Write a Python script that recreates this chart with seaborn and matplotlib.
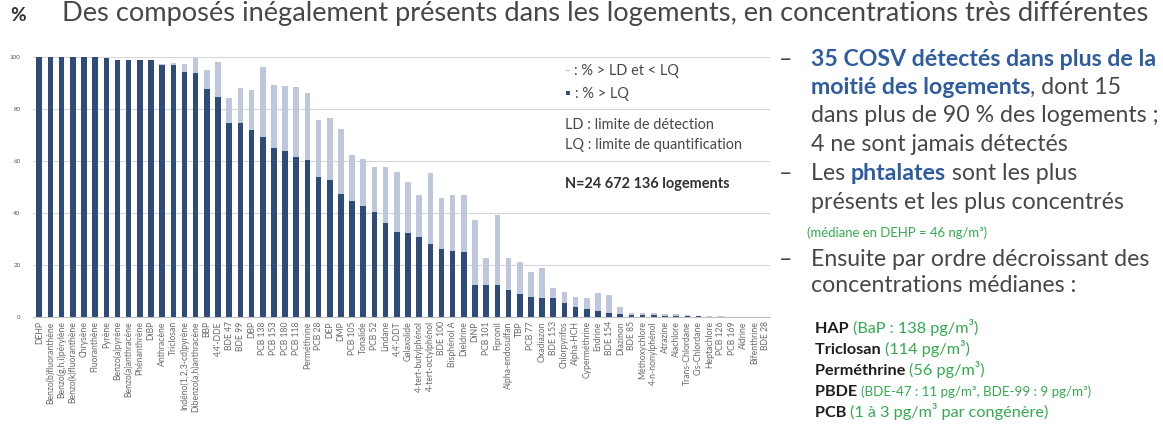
import numpy as np
import pandas as pd
import matplotlib
matplotlib.use("Agg")
import matplotlib.pyplot as plt
import seaborn as sns

# ---------------- data ----------------
composes = [
    "DEHP", "Benzo(b)fluoranthène", "Benzo(g,h,i)pérylène", "Benzo(k)fluoranthène",
    "Chrysène", "Fluoranthène", "Pyrène", "Benzo(a)pyrène", "Benzo(a)anthracène",
    "Phénanthrène", "DiBP", "Anthracène", "Triclosan", "Indéno(1,2,3-cd)pyrène",
    "Dibenzo(a,h)anthracène", "BBP", "4,4'-DDE", "BDE 47", "BDE 99", "DBP",
    "PCB 138", "PCB 153", "PCB 180", "PCB 118", "Perméthrine", "PCB 28", "DEP",
    "DMP", "PCB 105", "Tonalide", "PCB 52", "Lindane", "4,4'-DDT", "Galaxolide",
    "4-tert-butylphénol", "4-tert-octylphénol", "BDE 100", "Bisphénol A",
    "Dieldrine", "DiNP", "PCB 101", "Fipronil", "Alpha-endosulfan", "TBP",
    "PCB 77", "Oxadiazon", "BDE 153", "Chlorpyrifos", "Alpha-HCH", "Cyperméthrine",
    "Endrine", "BDE 154", "Diazinon", "BDE 85", "Méthoxychlore", "4-n-nonylphénol",
    "Atrazine", "Alachlore", "Trans-Chlordane", "Cis-Chlordane", "Heptachlore",
    "PCB 126", "PCB 169", "Aldrine", "Bifenthrine", "BDE 28",
]

# % of dwellings with concentration > LQ
pct_sup_lq = [
    100, 100, 100, 100, 100, 100, 99.5, 99, 98.8, 98.8,
    98.8, 96.9, 96.9, 94.4, 93.7, 87.6, 84.7, 74.5, 74.5, 71.9,
    69.3, 64.9, 64.0, 61.7, 60.4, 54.0, 52.7, 47.3, 44.7, 42.8,
    40.5, 36.3, 32.8, 32.4, 30.9, 28.1, 26.0, 25.4, 25.0, 12.3,
    12.3, 12.3, 10.4, 8.8, 7.8, 7.2, 7.2, 5.3, 4.0, 3.0,
    2.4, 1.4, 1.2, 0.8, 0.8, 0.6, 0.5, 0.4, 0.3, 0.2,
    0.1, 0.0, 0.0, 0.0, 0.0, 0.0,
]

# % of dwellings with LD < concentration < LQ
pct_ld_lq = [
    0, 0, 0, 0, 0, 0, 0, 0, 0, 0,
    0, 0.6, 0.8, 3.1, 5.8, 7.4, 13.5, 9.6, 13.5, 15.4,
    27.0, 24.3, 25.0, 26.9, 25.6, 21.8, 23.7, 24.9, 17.6, 17.9,
    17.1, 21.4, 23.1, 19.6, 16.0, 27.2, 19.6, 21.5, 21.9, 25.0,
    10.3, 26.9, 12.2, 12.5, 9.6, 11.8, 3.8, 4.4, 3.8, 4.2,
    6.7, 7.1, 2.8, 0.7, 0.7, 0.9, 0.7, 0.6, 0.5, 0.3,
    0.2, 0.2, 0.0, 0.0, 0.0, 0.0,
]

y_ticks = [0, 20, 40, 60, 80, 100]

# ---------------- style ----------------
sns.set_theme(style="white")
plt.rcParams['font.family'] = ['Lato', 'DejaVu Sans']

DARK = "#2F4B7A"
LIGHT = "#BEC8DC"
GREY_TXT = "#474747"
BLUE_TXT = "#2E5C9E"
GREEN_TXT = "#33AA4E"

W, H = 1163, 432
fig = plt.figure(figsize=(W / 100, H / 100), dpi=100)
fig.patch.set_facecolor("white")
ax = fig.add_axes([33 / W, 1 - 317 / H, (770 - 33) / W, (317 - 57) / H])

df = pd.DataFrame({
    "compose": composes,
    "quant": pct_sup_lq,
    "total": np.add(pct_sup_lq, pct_ld_lq),
})

sns.barplot(data=df, x="compose", y="total", order=composes, color=LIGHT,
            saturation=1, width=0.5, errorbar=None, ax=ax, linewidth=0)
sns.barplot(data=df, x="compose", y="quant", order=composes, color=DARK,
            saturation=1, width=0.5, errorbar=None, ax=ax, linewidth=0)

ax.set_ylim(0, 100)
ax.set_xlim(-0.56, len(composes) - 0.6)
ax.set_yticks(y_ticks)
ax.set_yticklabels([str(v) for v in y_ticks])
ax.yaxis.grid(True, color="#D6D6D6", lw=0.8)
ax.set_axisbelow(True)
for s in ["top", "right", "left"]:
    ax.spines[s].set_visible(False)
ax.spines["bottom"].set_color("#BFBFBF")
ax.spines["bottom"].set_linewidth(0.8)
ax.set_xlabel("")
ax.set_ylabel("")
ax.tick_params(axis="y", labelsize=4.5, colors="#595959", length=0, pad=9)
ax.tick_params(axis="x", labelsize=6.2, colors="#6A6A6A", length=0, pad=3)
for lab in ax.get_xticklabels():
    lab.set_rotation(90)
    lab.set_ha("center")
    lab.set_va("top")

# ---------------- text helpers ----------------
renderer = fig.canvas.get_renderer()


def seg_width(s, **kw):
    t1 = fig.text(0, 0, "|" + s + "|", **kw)
    w1 = t1.get_window_extent(renderer).width
    t1.remove()
    t2 = fig.text(0, 0, "||", **kw)
    w2 = t2.get_window_extent(renderer).width
    t2.remove()
    return w1 - w2


def rich(x, y, parts):
    for s, kw in parts:
        fig.text(x / W, 1 - y / H, s, va="baseline", ha="left", **kw)
        x += seg_width(s, **kw)


def fit_size(s, target, **kw):
    w = seg_width(s, fontsize=10, **kw)
    return 10 * target / w


# title
title = "Des composés inégalement présents dans les logements, en concentrations très différentes"
ts = fit_size(title, 1088)
fig.text(62 / W, 1 - 21 / H, title, fontsize=ts, color=GREY_TXT, va="baseline")
fig.text(10 / W, 1 - 21 / H, "%", fontsize=ts * 0.7, color="#303030",
         fontweight="bold", va="baseline")

# legend / notes inside the chart
ns = fit_size("LQ : limite de quantification", 177)
rich(565, 75, [("- ", dict(fontsize=ns, color=LIGHT, fontweight="bold")),
               (": % > LD et < LQ", dict(fontsize=ns, color=GREY_TXT))])
rich(565, 98, [("\u25aa ", dict(fontsize=ns, color=DARK)),
               (": % > LQ", dict(fontsize=ns, color=GREY_TXT))])
rich(565, 129, [("LD : limite de détection", dict(fontsize=ns, color=GREY_TXT))])
rich(565, 149, [("LQ : limite de quantification", dict(fontsize=ns, color=GREY_TXT))])
rich(565, 188, [("N=24 672 136 logements", dict(fontsize=ns, color="#303030",
                                                 fontweight="bold"))])

# right-hand text
ms = fit_size("Ensuite par ordre décroissant des", 339, color=GREY_TXT)
reg = dict(fontsize=ms, color=GREY_TXT)
blue = dict(fontsize=ms, color=BLUE_TXT, fontweight="bold")
X0 = 811
for yb in (66, 180, 266):
    fig.text(779 / W, 1 - yb / H, "\u2013", fontsize=ms, color=GREY_TXT, va="baseline")

rich(X0, 66, [("35 COSV détectés dans plus de la", blue)])
rich(X0, 94, [("moitié des logements", blue), (", dont 15", reg)])
rich(X0, 122, [("dans plus de 90 % des logements ;", reg)])
rich(X0, 151, [("4 ne sont jamais détectés", reg)])
rich(X0, 180, [("Les ", reg), ("phtalates", blue), (" sont les plus", reg)])
rich(X0, 209, [("présents et les plus concentrés", reg)])
gs = fit_size("(médiane en DEHP = 46 ng/m³)", 180)
rich(X0 - 4, 237, [("(médiane en DEHP = 46 ng/m³)",
                    dict(fontsize=gs, color=GREEN_TXT))])
rich(X0, 266, [("Ensuite par ordre décroissant des", reg)])
rich(X0, 292, [("concentrations médianes :", reg)])

ss = fit_size("Triclosan", 66, fontweight="bold")
bold = dict(fontsize=ss, color="#1E1E1E", fontweight="bold")
grn = dict(fontsize=ss, color=GREEN_TXT)
grn_s = dict(fontsize=ss * 0.82, color=GREEN_TXT)
X1 = 815
rich(X1, 333, [("HAP ", bold), ("(BaP : 138 pg/m³)", grn)])
rich(X1, 354, [("Triclosan ", bold), ("(114 pg/m³)", grn)])
rich(X1, 375, [("Perméthrine ", bold), ("(56 pg/m³)", grn)])
rich(X1, 396, [("PBDE ", bold), ("(BDE-47 : 11 pg/m³, BDE-99 : 9 pg/m³)", grn_s)])
rich(X1, 417, [("PCB ", bold), ("(1 à 3 pg/m³ par congénère)", grn)])

fig.savefig("out.png", dpi=100, facecolor="white")
